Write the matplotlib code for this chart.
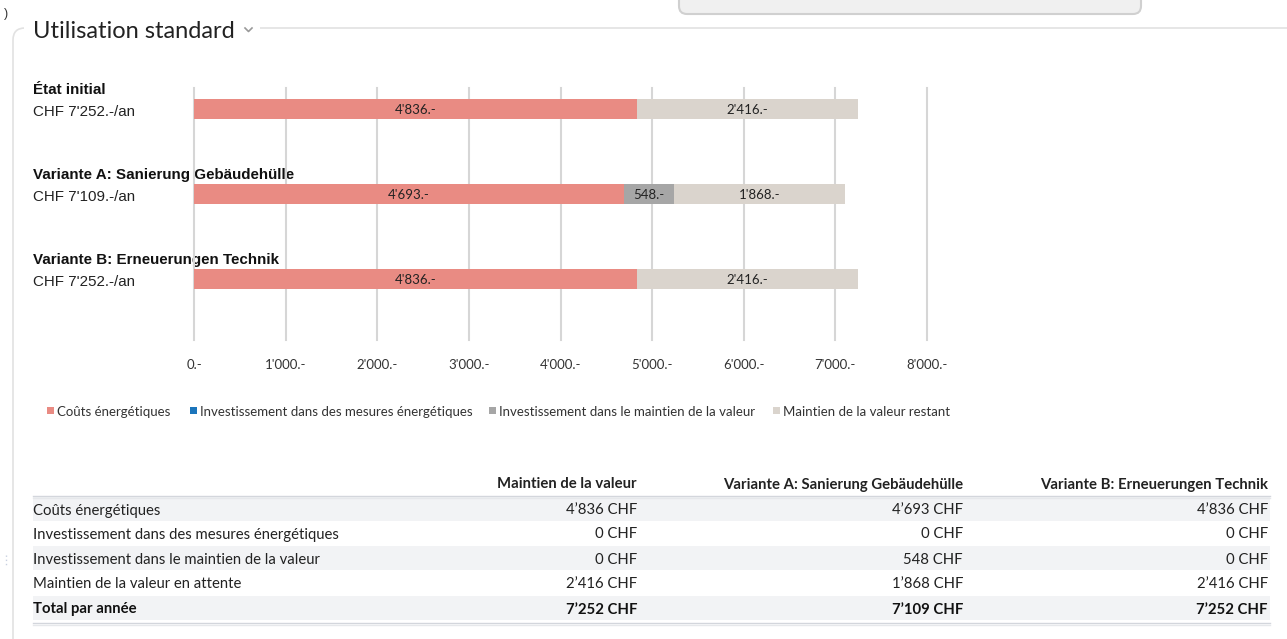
import matplotlib.pyplot as plt
from matplotlib.patches import FancyBboxPatch, Rectangle
import numpy as np

W, H = 1287, 639

# chart data
rows = ["État initial", "Variante A: Sanierung Gebäudehülle", "Variante B: Erneuerungen Technik"]
energy = [4836, 4693, 4836]
invest_energy = [0, 0, 0]
invest_maint = [0, 548, 0]
maint_rest = [2416, 1868, 2416]

series_names = ["Coûts énergétiques", "Investissement dans des mesures énergétiques",
                "Investissement dans le maintien de la valeur", "Maintien de la valeur restant"]
series_colors = ["#e98b83", "#1b75bb", "#a6a6a6", "#dad4cd"]
xticks = [0, 1000, 2000, 3000, 4000, 5000, 6000, 7000, 8000]

# table data
table_cols = ["Maintien de la valeur", "Variante A: Sanierung Gebäudehülle", "Variante B: Erneuerungen Technik"]
table_rows = ["Coûts énergétiques", "Investissement dans des mesures énergétiques",
              "Investissement dans le maintien de la valeur", "Maintien de la valeur en attente"]

body_font = "Lato"
label_font = "Liberation Sans"


def fmt(v, sep="'"):
    return f"{v:,}".replace(",", sep)


fig = plt.figure(figsize=(W / 100, H / 100), dpi=100)

# background layer in pixel coordinates
bg = fig.add_axes([0, 0, 1, 1])
bg.set_xlim(0, W)
bg.set_ylim(H, 0)
bg.axis("off")

# card frame
bg.add_patch(FancyBboxPatch((13, 28), W + 40, H, boxstyle="round,pad=0,rounding_size=12",
                            fc="white", ec="#e2e2e2", lw=1.2))
bg.add_patch(Rectangle((24, 15), 236, 25, fc="white", ec="none"))
# floating panel at the top
bg.add_patch(FancyBboxPatch((679, -20), 462, 34, boxstyle="round,pad=0,rounding_size=8",
                            fc="#f0f0f0", ec="#d0d0d0", lw=1.5))
bg.text(4, 14, ")", fontsize=9, color="#333", family=label_font, va="center")
bg.plot([6, 6], [555, 567], color="#c8d0e0", lw=1, ls=(0, (1, 2)))

# title + chevron
bg.text(33, 31, "Utilisation standard", fontsize=17, family=body_font, color="#222", va="center")
bg.plot([245, 248.5, 252], [28, 31.5, 28], color="#999", lw=1.2)

# row labels
for i, name in enumerate(rows):
    y0 = 90 + 85 * i
    total = energy[i] + invest_energy[i] + invest_maint[i] + maint_rest[i]
    bg.text(33, y0, name, fontsize=10.9, weight="bold", family=label_font, color="#111", va="center")
    bg.text(33, y0 + 22, f"CHF {fmt(total)}.-/an", fontsize=10.9, family=label_font, color="#222", va="center")

# legend
lx = [47, 190, 489, 773]
for x, name, c in zip(lx, series_names, series_colors):
    bg.add_patch(Rectangle((x, 407), 7, 7, fc=c, ec="none"))
    bg.text(x + 10, 412, name, fontsize=9.5, family=body_font, color="#333", va="center")

# table
col_right = [637, 963, 1268]
row_y = [509, 533, 558, 583, 608]
for j, c in enumerate(table_cols):
    bg.text(col_right[j], 484.5, c, fontsize=10.7, weight="bold", family=body_font, color="#222",
            va="center", ha="right")
bg.plot([33, 1270], [495.5, 495.5], color="#d3d6dc", lw=1)
bg.plot([33, 1270], [497.5, 497.5], color="#e6e8eb", lw=1)
for k, y in enumerate(row_y):
    if k % 2 == 0:
        bg.add_patch(Rectangle((33, y - 12), 1237, 24, fc="#f2f3f5", ec="none"))
bg.plot([33, 1270], [622.5, 622.5], color="#d3d6dc", lw=1)
bg.plot([33, 1270], [624.5, 624.5], color="#e6e8eb", lw=1)

table_vals = [energy, invest_energy, invest_maint, maint_rest]
for k, (rname, vals) in enumerate(zip(table_rows, table_vals)):
    y = row_y[k] + 1.5
    bg.text(33, y, rname, fontsize=10.7, family=body_font, color="#222", va="center")
    for j in range(3):
        bg.text(col_right[j], y, f"{fmt(vals[j], '’')} CHF", fontsize=10.7, family=body_font,
                color="#222", va="center", ha="right")
totals = [sum(v[j] for v in table_vals) for j in range(3)]
bg.text(33, row_y[4] + 1.5, "Total par année", fontsize=10.7, weight="bold", family=body_font,
        color="#111", va="center")
for j in range(3):
    bg.text(col_right[j], row_y[4] + 1.5, f"{fmt(totals[j], '’')} CHF", fontsize=10.7, weight="bold",
            family=body_font, color="#111", va="center", ha="right")

# bar chart
top, bottom, left, right = 88, 340, 194, 927
ax = fig.add_axes([left / W, 1 - bottom / H, (right - left) / W, (bottom - top) / H])
ax.set_xlim(0, 8000)
ax.set_ylim((bottom - 109) / 85, -(109 - top) / 85)
ax.patch.set_alpha(0)
for s in ax.spines.values():
    s.set_visible(False)
ax.set_xticks(xticks)
ax.set_xticklabels([f"{fmt(t)}.-" for t in xticks], fontsize=9.5, family=body_font, color="#333")
ax.set_yticks([])
ax.tick_params(axis="x", length=0, pad=14)
for t in xticks:
    ax.axvline(t, color="#d6d6d6", lw=1.5, zorder=0, clip_on=False)

ypos = np.arange(len(rows))
left_acc = np.zeros(len(rows))
for vals, c in zip([energy, invest_energy, invest_maint, maint_rest], series_colors):
    vals = np.array(vals)
    ax.barh(ypos, vals, left=left_acc, height=20 / 85, color=c, zorder=2)
    for i, v in enumerate(vals):
        if v > 0:
            ax.text(left_acc[i] + v / 2, ypos[i] + 0.01, f"{fmt(int(v))}.-", ha="center", va="center",
                    fontsize=9.5, family=body_font, color="#222", zorder=3)
    left_acc += vals

fig.savefig("out.png", dpi=100)
